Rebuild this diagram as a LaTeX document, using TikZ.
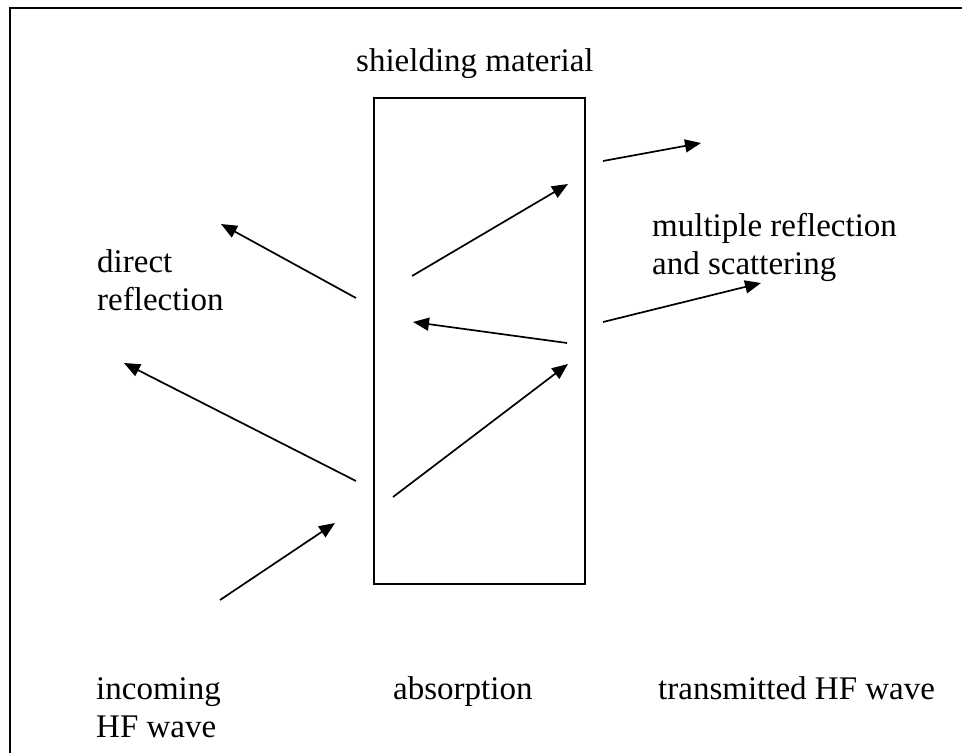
\documentclass[tikz,border=0pt]{standalone}
\usepackage{fontspec}
\setmainfont{Liberation Serif}
\usetikzlibrary{arrows.meta}
\begin{document}
\begin{tikzpicture}[x=1pt,y=-1pt,
  wave/.style={line width=1.7pt,-{Triangle[length=16pt,width=13pt]}},
  lbl/.style={anchor=base west,inner sep=0pt,font=\fontsize{33}{38}\selectfont,align=left}]
\useasboundingbox (0,0) rectangle (962,753);
\fill[white] (0,0) rectangle (962,753);
\draw[line width=2.2pt] (10,753) -- (10,8) -- (962,8);
\node[draw,line width=1.7pt,minimum width=211pt,minimum height=486pt,inner sep=0pt] (shield) at (479.5,341) {};
% coordinates
\coordinate (a1) at (220,600); \coordinate (a2) at (335,523);
\coordinate (b1) at (356,298); \coordinate (b2) at (221,224);
\coordinate (c1) at (356,481); \coordinate (c2) at (124,363);
\coordinate (d1) at (393,497); \coordinate (d2) at (568,364);
\coordinate (e1) at (567,343); \coordinate (e2) at (413,322);
\coordinate (f1) at (412,276); \coordinate (f2) at (568,184);
\coordinate (g1) at (603,161); \coordinate (g2) at (701,143);
\coordinate (h1) at (603,322); \coordinate (h2) at (761,283);
\draw[wave] (a1) -- (a2);
\draw[wave] (b1) -- (b2);
\draw[wave] (c1) -- (c2);
\draw[wave] (d1) -- (d2);
\draw[wave] (e1) -- (e2);
\draw[wave] (f1) -- (f2);
\draw[wave] (g1) -- (g2);
\draw[wave] (h1) -- (h2);
\node[lbl] (t1) at (356,71) {shielding material};
\node[lbl] (t2) at (97,310) {direct\\reflection};
\node[lbl] (t3) at (652,274) {multiple reflection\\and scattering};
\node[lbl] (t4) at (96,737) {incoming\\HF wave};
\node[lbl] (t5) at (393,699) {absorption};
\node[lbl] (t6) at (658,699) {transmitted HF wave};
\end{tikzpicture}
\end{document}
